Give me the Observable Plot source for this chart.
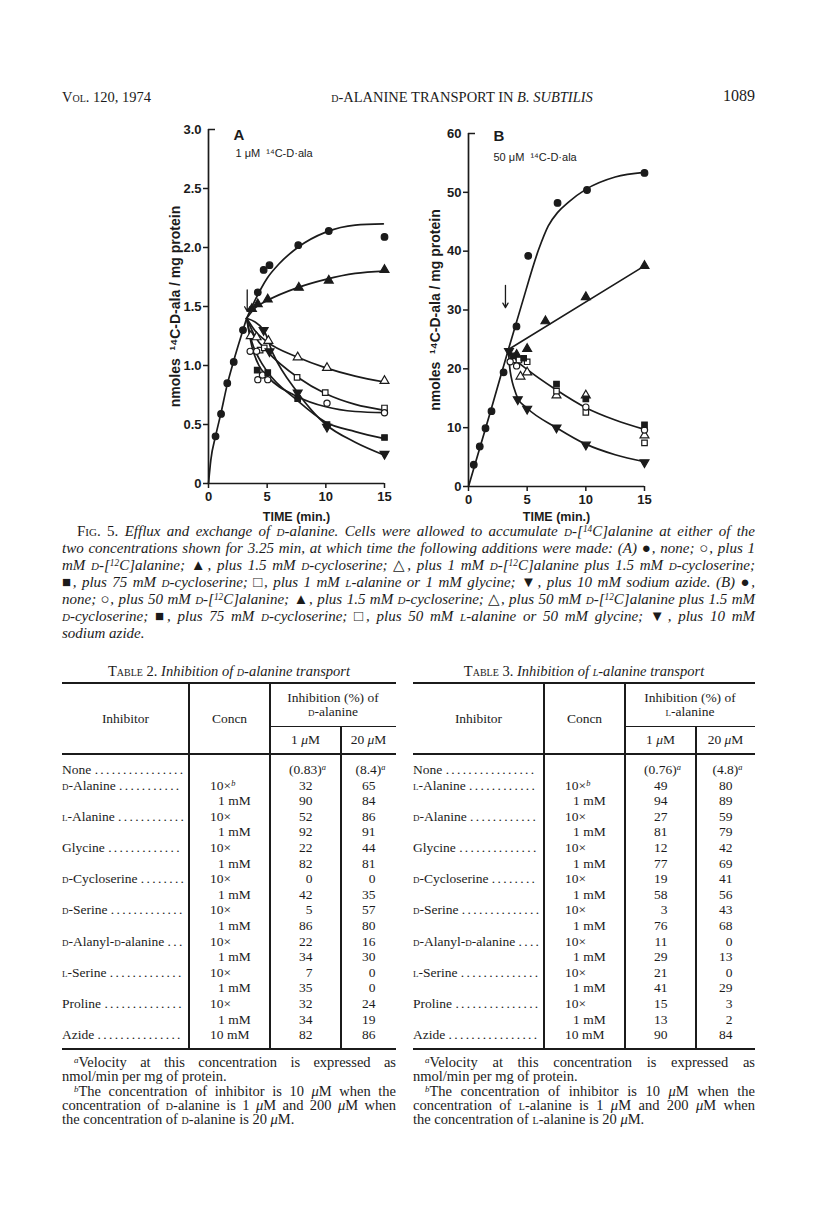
<!DOCTYPE html>
<html><head><meta charset="utf-8">
<script src="https://cdn.jsdelivr.net/npm/d3@7"></script>
<script src="https://cdn.jsdelivr.net/npm/@observablehq/plot@0.6"></script>
<style>
html,body{margin:0;padding:0;background:#fff;font-family:"Liberation Serif","Times New Roman",serif;color:#1b1b1b;}
#page{position:relative;width:816px;height:1232px;overflow:hidden;}
.abs{position:absolute;white-space:nowrap;}
.sc{font-variant:small-caps;}
sup{font-size:0.62em;line-height:0;vertical-align:0.45em;}
.cap{position:absolute;font-style:italic;font-size:14.5px;line-height:15px;height:15px;text-align:justify;text-align-last:justify;}
.up{font-style:normal;}
.rule{position:absolute;background:#1b1b1b;}
.tx{position:absolute;white-space:nowrap;font-size:13.5px;line-height:16px;height:16px;}
.lead{position:absolute;white-space:nowrap;overflow:hidden;font-size:13.5px;line-height:16px;height:16px;}
.dots{letter-spacing:2.3px;}
</style></head>
<body><div id="page">
<div class="abs" style="left:62px;top:88px;font-size:14.5px;line-height:18px;">V<span class="sc">ol</span>. 120, 1974</div>
<div class="abs" style="left:262px;width:400px;text-align:center;top:88px;font-size:14.5px;line-height:18px;"><span class="sc">d</span>-ALANINE TRANSPORT IN <i>B. SUBTILIS</i></div>
<div class="abs" style="left:655px;width:100px;text-align:right;top:87px;font-size:16px;line-height:18px;">1089</div>
<div id="chartA" class="abs" style="left:150px;top:110px;"></div>
<div id="chartB" class="abs" style="left:410px;top:110px;"></div>
</div>
<script>
// ---------------- Figure 5 data (time in min, nmol 14C-D-ala / mg protein) ----------------
// Panel A: 1 uM 14C-D-ala
const A_none_pts      = [[0.6,0.40],[1.07,0.59],[1.6,0.85],[2.15,1.03],[2.94,1.30],[4.2,1.62],[4.7,1.81],[5.2,1.85],[7.65,2.02],[10.25,2.14],[15,2.09]];
const A_cyclo_pts     = [[3.7,1.48],[4.2,1.52],[5.05,1.56],[7.7,1.66],[10.25,1.72],[15,1.81]];
const A_dala_pts      = [[3.55,1.12],[4.1,1.12],[4.2,0.88],[4.6,0.92],[5.05,0.88],[10.1,0.68],[15,0.60]];
const A_dalaCyclo_pts = [[3.6,1.25],[4.1,1.24],[5.1,1.21],[7.6,1.07],[10.1,0.98],[15,0.87]];
const A_cyclo75_pts   = [[4.15,0.96],[5.05,0.94],[7.6,0.72],[10.1,0.50],[15,0.39]];
const A_lalaGly_pts   = [[4.4,1.13],[4.75,1.15],[7.55,0.90],[9.95,0.77],[15,0.64]];
const A_azide_pts     = [[4.7,1.30],[5.2,1.12],[7.6,0.77],[10.1,0.48],[15,0.25]];
// hand-drawn curves of panel A
const A_uptake_curve     = [[0,0],[0.2,0.2],[0.6,0.40],[1.07,0.60],[1.6,0.84],[2.15,1.04],[2.94,1.30],[3.25,1.40]];
const A_none_curve       = [[3.25,1.40],[4,1.56],[5,1.74],[6,1.86],[7.6,2.0],[10,2.13],[12.5,2.19],[14.9,2.2]];
const A_cyclo_curve      = [[3.25,1.40],[4,1.49],[5,1.55],[7.6,1.66],[10,1.73],[12.5,1.78],[15,1.80]];
const A_dalaCyclo_curve  = [[3.25,1.40],[4,1.29],[5,1.20],[7.6,1.07],[10,0.98],[12.5,0.91],[15,0.86]];
const A_lalaGly_curve    = [[3.25,1.40],[4,1.24],[5,1.12],[7.6,0.90],[10,0.76],[12.5,0.67],[15,0.62]];
const A_dala_curve       = [[3.25,1.40],[3.7,1.16],[4.3,1.00],[5,0.91],[7.5,0.74],[10,0.65],[12.5,0.61],[15,0.60]];
const A_cyclo75_curve    = [[3.25,1.40],[3.7,1.20],[4.3,1.06],[5,0.95],[7.5,0.71],[10,0.52],[12.5,0.44],[15,0.38]];
const A_azide_curve      = [[3.25,1.40],[4.7,1.30],[5.5,1.10],[7.6,0.77],[10,0.50],[12.5,0.35],[15,0.24]];
const A_arrow = [{t:3.3, from:1.64, to:1.46}];
const A_yTicks = [0,0.5,1.0,1.5,2.0,2.5,3.0];

// Panel B: 50 uM 14C-D-ala
const B_none_pts      = [[0.45,3.7],[0.96,6.8],[1.45,9.9],[1.96,12.8],[2.99,19.4],[4.09,27.2],[5.09,39.2],[7.59,48.2],[10.1,50.4],[15,53.3]];
const B_cyclo_pts     = [[4.1,22.4],[5.0,23.4],[6.56,28.1],[10.0,32.2],[15,37.5]];
const B_dala_pts      = [[3.55,21.2],[4.1,20.5],[10,13.5],[15,9.6]];
const B_dalaCyclo_pts = [[3.8,21.5],[4.43,18.7],[5.0,19.4],[7.5,15.5],[10,15.5],[15,8.7]];
const B_cyclo75_pts   = [[3.8,22.2],[4.7,21.8],[7.5,17.4],[10,14.9],[15,10.5]];
const B_lalaGly_pts   = [[4.3,21.5],[5.0,21.2],[7.5,16.2],[10,12.6],[15,7.4]];
const B_azide_pts     = [[3.45,23.0],[4.2,14.8],[5.0,13.2],[7.5,10.0],[10,7.1],[15,4.1]];
const B_none_curve    = [[0,0],[1,6.8],[2,13.6],[3.4,23.3],[4.5,30.7],[6,40.4],[6.8,44.3],[7.6,46.6],[8.5,48.3],[10,50.5],[12.5,52.6],[15,53.4]];
const B_cyclo_curve   = [[3.4,23.3],[15,37.5]];
const B_decline_curve = [[3.4,23.3],[4,21.6],[5,19.9],[7.5,16.4],[10,13.4],[12.5,11.3],[15,9.7]];
const B_azide_curve   = [[3.4,23.3],[3.5,20.5],[3.65,18.5],[3.9,16.6],[4.2,15.0],[5,13.3],[7.5,10.0],[10,7.2],[12.5,5.4],[15,4.2]];
const B_arrow = [{t:3.15, from:34.2, to:30.4}];
const B_yTicks = [0,10,20,30,40,50,60];

const xTicks = [0,5,10,15];

// ---------------- Table 2 / Table 3 data ----------------
const inhibitorNames  = ["None","d-Alanine","","l-Alanine","","Glycine","","d-Cycloserine","","d-Serine","","d-Alanyl-d-alanine","","l-Serine","","Proline","","Azide"];
const inhibitorNames3 = ["None","l-Alanine","","d-Alanine","","Glycine","","d-Cycloserine","","d-Serine","","d-Alanyl-d-alanine","","l-Serine","","Proline","","Azide"];
const concn   = ["","10×^b","1 mM","10×","1 mM","10×","1 mM","10×","1 mM","10×","1 mM","10×","1 mM","10×","1 mM","10×","1 mM","10 mM"];
const t2_1uM  = ["(0.83)","32","90","52","92","22","82","0","42","5","86","22","34","7","35","32","34","82"];
const t2_20uM = ["(8.4)","65","84","86","91","44","81","0","35","57","80","16","30","0","0","24","19","86"];
const t3_1uM  = ["(0.76)","49","94","27","81","12","77","19","58","3","76","11","29","21","41","15","13","90"];
const t3_20uM = ["(4.8)","80","89","59","79","42","69","41","56","43","68","0","13","0","29","3","2","84"];

// ---------------- Caption text ----------------
const captionLines = [
 '<span class="up">F<span class="sc">ig</span>. 5.</span> Efflux and exchange of <span class="sc">d</span>-alanine. Cells were allowed to accumulate <span class="sc">d</span>-[<sup>14</sup>C]alanine at either of the',
 'two concentrations shown for 3.25 min, at which time the following additions were made: (A) <span class="up">●</span>, none; <span class="up">○</span>, plus 1',
 'mM <span class="sc">d</span>-[<sup>12</sup>C]alanine; <span class="up">▲</span>, plus 1.5 mM <span class="sc">d</span>-cycloserine; <span class="up">△</span>, plus 1 mM <span class="sc">d</span>-[<sup>12</sup>C]alanine plus 1.5 mM <span class="sc">d</span>-cycloserine;',
 '<span class="up">■</span>, plus 75 mM <span class="sc">d</span>-cycloserine; <span class="up">□</span>, plus 1 mM <span class="sc">l</span>-alanine or 1 mM glycine; <span class="up">▼</span>, plus 10 mM sodium azide. (B) <span class="up">●</span>,',
 'none; <span class="up">○</span>, plus 50 mM <span class="sc">d</span>-[<sup>12</sup>C]alanine; <span class="up">▲</span>, plus 1.5 mM <span class="sc">d</span>-cycloserine; <span class="up">△</span>, plus 50 mM <span class="sc">d</span>-[<sup>12</sup>C]alanine plus 1.5 mM',
 '<span class="sc">d</span>-cycloserine; <span class="up">■</span>, plus 75 mM <span class="sc">d</span>-cycloserine; <span class="up">□</span>, plus 50 mM <span class="sc">l</span>-alanine or 50 mM glycine; <span class="up">▼</span>, plus 10 mM',
 'sodium azide.'
];

// ---------------- Charts ----------------
const ink = "#1b1b1b";
const triangleDown = {draw(ctx, size){ const y = -Math.sqrt(size / (Math.sqrt(3) * 3)); ctx.moveTo(0, -y * 2); ctx.lineTo(-Math.sqrt(3) * y, y); ctx.lineTo(Math.sqrt(3) * y, y); ctx.closePath(); }};

function seriesList(p){
  return [
    {pts:p.none, symbol:"circle", fill:ink, r:3.3},
    {pts:p.cyclo, symbol:"triangle", fill:ink, r:3.3},
    {pts:p.dalaCyclo, symbol:"triangle", fill:"white", r:3.3},
    {pts:p.lalaGly, symbol:"square", fill:"white", r:3.1},
    {pts:p.dala, symbol:"circle", fill:"white", r:3.1},
    {pts:p.cyclo75, symbol:"square", fill:ink, r:3.1},
    {pts:p.azide, symbol:triangleDown, fill:ink, r:3.3}
  ];
}

function panel(cfg){
  const fmt = cfg.fmt;
  return Plot.plot({
    width:250, height:420,
    marginLeft:58, marginRight:16, marginTop:cfg.mt, marginBottom:cfg.mb,
    x:{domain:[0,15]}, y:{domain:[0, cfg.yTicks[cfg.yTicks.length-1]]},
    style:{fontFamily:"'Liberation Sans', Arial, sans-serif", fontSize:"13px", fontWeight:"bold", color:ink, background:"transparent", overflow:"visible"},
    marks:[
      Plot.ruleX([0],{stroke:ink, strokeWidth:1.7}),
      Plot.ruleY([0],{stroke:ink, strokeWidth:1.7}),
      Plot.axisX({ticks:xTicks, tickSize:5, tickPadding:3, label:null, strokeWidth:1.5, tickFormat:d=>String(d)}),
      Plot.axisY({ticks:cfg.yTicks.slice(0,-1), tickSize:5, tickPadding:2, label:null, strokeWidth:1.5, tickFormat:fmt}),
      Plot.axisY({ticks:cfg.yTicks.slice(-1), tickSize:-7, tickPadding:14, label:null, strokeWidth:1.5, tickFormat:fmt}),
      ...cfg.curves.map(c => Plot.line(c, {x:d=>d[0], y:d=>d[1], curve:"monotone-x", stroke:ink, strokeWidth:1.7})),
      Plot.arrow(cfg.arrow, {x1:"t", x2:"t", y1:"from", y2:"to", stroke:ink, strokeWidth:1.3, headLength:6}),
      ...seriesList(cfg.series).map(s => Plot.dot(s.pts, {x:d=>d[0], y:d=>d[1], symbol:s.symbol, r:s.r, fill:s.fill, stroke:ink, strokeWidth:1.2})),
      Plot.text([cfg.letter], {text:d=>d, frameAnchor:"top-left", dx:cfg.ldx, dy:cfg.ldy, textAnchor:"start", lineAnchor:"middle", fontSize:15}),
      Plot.text([cfg.conc], {text:d=>d, frameAnchor:"top-left", dx:cfg.cdx, dy:24, textAnchor:"start", lineAnchor:"middle", fontSize:11, fontWeight:"normal"}),
      Plot.text(["nmoles  ¹⁴C-D-ala / mg protein"], {text:d=>d, frameAnchor:"left", rotate:-90, dx:-33, textAnchor:"middle", lineAnchor:"middle", fontSize:14}),
      Plot.text(["TIME (min.)"], {text:d=>d, frameAnchor:"bottom", dy:cfg.tdy, textAnchor:"middle", lineAnchor:"middle", fontSize:12.5})
    ]
  });
}

document.getElementById("chartA").append(panel({
  mt:19, mb:47, yTicks:A_yTicks, fmt:d => d === 0 ? "0" : d.toFixed(1), tdy:33,
  curves:[A_uptake_curve, A_none_curve, A_cyclo_curve, A_dalaCyclo_curve, A_lalaGly_curve, A_dala_curve, A_cyclo75_curve, A_azide_curve],
  series:{none:A_none_pts, cyclo:A_cyclo_pts, dala:A_dala_pts, dalaCyclo:A_dalaCyclo_pts, cyclo75:A_cyclo75_pts, lalaGly:A_lalaGly_pts, azide:A_azide_pts},
  arrow:A_arrow, letter:"A", conc:"1 μM  ¹⁴C-D·ala", ldx:25, ldy:6, cdx:27
}));
document.getElementById("chartB").append(panel({
  mt:23, mb:44, yTicks:B_yTicks, fmt:d => String(d), tdy:30,
  curves:[B_none_curve, B_cyclo_curve, B_decline_curve, B_azide_curve],
  series:{none:B_none_pts, cyclo:B_cyclo_pts, dala:B_dala_pts, dalaCyclo:B_dalaCyclo_pts, cyclo75:B_cyclo75_pts, lalaGly:B_lalaGly_pts, azide:B_azide_pts},
  arrow:B_arrow, letter:"B", conc:"50 μM  ¹⁴C-D·ala", ldx:25, ldy:3, cdx:25
}));

// ---------------- HTML text helpers ----------------
const page = document.getElementById("page");
function el(cls, html, css){ const d = document.createElement("div"); d.className = cls; d.innerHTML = html; d.style.cssText = css; page.appendChild(d); return d; }
function txt(html, x, y, align, extra){
  extra = extra || "";
  if (align === "c") return el("tx", html, `left:${x}px;transform:translateX(-50%);top:${y-8}px;${extra}`);
  if (align === "r") return el("tx", html, `right:${816-x}px;top:${y-8}px;${extra}`);
  return el("tx", html, `left:${x}px;top:${y-8}px;${extra}`);
}
function hrule(x1, x2, y, t){ el("rule", "", `left:${x1}px;width:${x2-x1}px;top:${y-t/2}px;height:${t}px;`); }
function vrule(x, y1, y2, t){ el("rule", "", `left:${x-t/2}px;width:${t}px;top:${y1}px;height:${y2-y1}px;`); }
const sc = s => s.replace(/(^|-)([dl])(?=-)/g, '$1<span class="sc">$2</span>');

function fitLines(items, start, min){
  const meas = document.createElement("span");
  meas.style.cssText = "position:absolute;visibility:hidden;white-space:nowrap;left:0;top:0;";
  document.body.appendChild(meas);
  let size = start;
  for (; size > min; size -= 0.25){
    let ok = true;
    for (const it of items){
      meas.style.fontSize = size + "px";
      meas.style.fontStyle = it.italic ? "italic" : "normal";
      meas.innerHTML = it.el.innerHTML;
      if (meas.getBoundingClientRect().width > it.width - 2){ ok = false; break; }
    }
    if (ok) break;
  }
  meas.remove();
  items.forEach(it => it.el.style.fontSize = size + "px");
}

// ---------------- Caption ----------------
const capLeft = 62, capRight = 755, capCenter0 = 531, capStep = 17;
const capItems = captionLines.map((h, i) => {
  const indent = i === 0 ? 15 : 0;
  const w = capRight - capLeft - indent;
  const last = i === captionLines.length - 1;
  const d = el("cap", h, `left:${capLeft+indent}px;width:${w}px;top:${capCenter0 - 7.5 + i*capStep}px;${last ? "text-align-last:left;width:auto;" : ""}`);
  return {el:d, width:w, italic:true};
});
fitLines(capItems.slice(0, -1), 15, 12);
capItems[capItems.length-1].el.style.fontSize = capItems[0].el.style.fontSize;

// ---------------- Tables ----------------
function leader(name, x, w, y){
  const d = el("lead", sc(name) + ' <span class="dots"></span>', `left:${x}px;width:${w}px;top:${y-8}px;`);
  const dots = d.querySelector(".dots");
  let n = 60;
  dots.textContent = ".".repeat(n);
  while (n > 0 && d.scrollWidth > d.clientWidth){ n--; dots.textContent = ".".repeat(n); }
  return d;
}
function table(cfg){
  const {left, cuts, right} = cfg;
  const yTitle = 671, yTop = 683, ySub = 726, yHead = 754, yRow0 = 770, dRow = 15.6, yBot = 1049;
  txt(cfg.title, (left+right)/2, yTitle, "c", "font-size:14.5px;");
  hrule(left, right, yTop, 1.6);
  hrule(cuts[1], right, ySub, 1);
  hrule(left, right, yHead, 1.8);
  hrule(left, right, yBot, 1.6);
  vrule(cuts[0], yTop, yBot, 1.1);
  vrule(cuts[1], yTop, yBot, 1.1);
  vrule(cuts[2], ySub, yBot, 1.1);
  txt("Inhibitor", (left+cuts[0])/2, 719, "c");
  txt("Concn", (cuts[0]+cuts[1])/2, 719, "c");
  txt("Inhibition (%) of", (cuts[1]+right)/2, 698, "c");
  txt(sc(cfg.analyte), (cuts[1]+right)/2, 712, "c");
  const c3 = (cuts[1]+cuts[2])/2, c4 = (cuts[2]+right)/2;
  txt("1 <i>μ</i>M", c3, 740, "c");
  txt("20 <i>μ</i>M", c4, 740, "c");
  cfg.names.forEach((n, i) => {
    const y = yRow0 + i*dRow;
    if (n) leader(n, left, cuts[0]-left-3, y);
    const c = concn[i];
    if (c) txt(c.replace("^b", "<sup><i>b</i></sup>"), cuts[0] + (c === "1 mM" ? 29 : 21), y, "l");
    [[cfg.v1[i], c3], [cfg.v2[i], c4]].forEach(([v, cx]) => {
      if (v.startsWith("(")) txt(v + "<sup><i>a</i></sup>", cx + 2, y, "c");
      else txt(v, cx + 7, y, "r");
    });
  });
  const items = cfg.notes.map((h, i) => {
    const indent = (i === 0 || i === 2) ? 12 : 0;
    const justify = !(i === 1 || i === 4);
    const w = right - left - indent;
    const d = el("cap", h, `font-style:normal;left:${left+indent}px;width:${justify ? w + "px" : "auto"};top:${1055 + i*14.3}px;line-height:15px;height:15px;${justify ? "" : "text-align-last:left;white-space:nowrap;"}`);
    return {el:d, width:w, italic:false, justify};
  });
  fitLines(items.filter(it => it.justify), 14.5, 11);
  items.forEach(it => it.el.style.fontSize = items[0].el.style.fontSize);
}
const noteLines = a => [
  '<sup><i>a</i></sup>Velocity at this concentration is expressed as',
  'nmol/min per mg of protein.',
  '<sup><i>b</i></sup>The concentration of inhibitor is 10 <i>μ</i>M when the',
  'concentration of ' + sc(a) + ' is 1 <i>μ</i>M and 200 <i>μ</i>M when',
  'the concentration of ' + sc(a) + ' is 20 <i>μ</i>M.'
];
table({left:62, cuts:[189,270,341], right:396, names:inhibitorNames, v1:t2_1uM, v2:t2_20uM,
  title:'T<span class="sc">able</span> 2. <i>Inhibition of <span class="sc">d</span>-alanine transport</i>', analyte:"d-alanine", notes:noteLines("d-alanine")});
table({left:413, cuts:[544,625,696], right:755, names:inhibitorNames3, v1:t3_1uM, v2:t3_20uM,
  title:'T<span class="sc">able</span> 3. <i>Inhibition of <span class="sc">l</span>-alanine transport</i>', analyte:"l-alanine", notes:noteLines("l-alanine")});
</script>
</body></html>
